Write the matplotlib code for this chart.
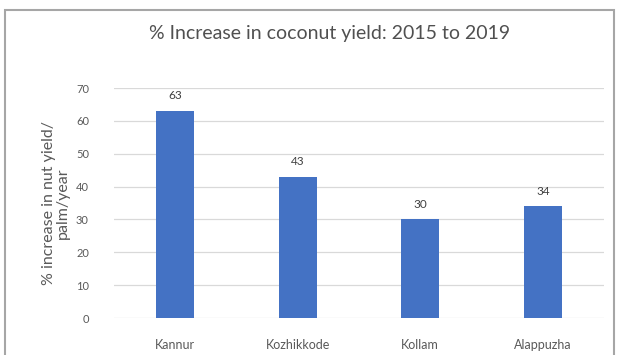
import matplotlib
matplotlib.use("Agg")
import matplotlib.pyplot as plt
from matplotlib.patches import Rectangle

districts = ["Kannur", "Kozhikkode", "Kollam", "Alappuzha"]
increase = [63, 43, 30, 34]
yticks = [0, 10, 20, 30, 40, 50, 60, 70]

plt.rcParams["font.family"] = ["Lato", "DejaVu Sans"]
grey = "#595959"

fig = plt.figure(figsize=(6.19, 3.55), dpi=100)
# chart border (the picture is cut at the bottom)
fig.patches.append(Rectangle((5 / 619, -0.05), 609 / 619, 1 - 10 / 355 + 0.05,
                             transform=fig.transFigure, fill=False,
                             edgecolor="#a6a6a6", linewidth=1.5))

ax = fig.add_axes([0.184, 0.104, 0.792, 0.648])
x = range(len(districts))
ax.bar(x, increase, width=0.31, color="#4472c4", zorder=3)
for xi, v in zip(x, increase):
    ax.annotate(str(v), (xi, v), xytext=(0, 7), textcoords="offset points",
                ha="center", va="bottom", fontsize=8.5, color="#404040")

ax.set_xlim(-0.5, len(districts) - 0.5)
ax.set_ylim(0, 70)
ax.set_yticks(yticks)
ax.set_xticks(list(x))
ax.set_xticklabels(districts)
ax.tick_params(axis="y", length=0, pad=18, labelsize=8, labelcolor=grey)
ax.tick_params(axis="x", length=0, pad=15, labelsize=9, labelcolor=grey)
ax.grid(axis="y", color="#d9d9d9", linewidth=0.9, zorder=0)
for s in ax.spines.values():
    s.set_visible(False)

ax.set_ylabel("% increase in nut yield/\npalm/year", fontsize=11.5, color=grey,
              labelpad=4, linespacing=1.05)
fig.text(0.533, 0.905, "% Increase in coconut yield: 2015 to 2019",
         ha="center", va="center", fontsize=14, color="#505050")

fig.savefig("out.png", dpi=100)
